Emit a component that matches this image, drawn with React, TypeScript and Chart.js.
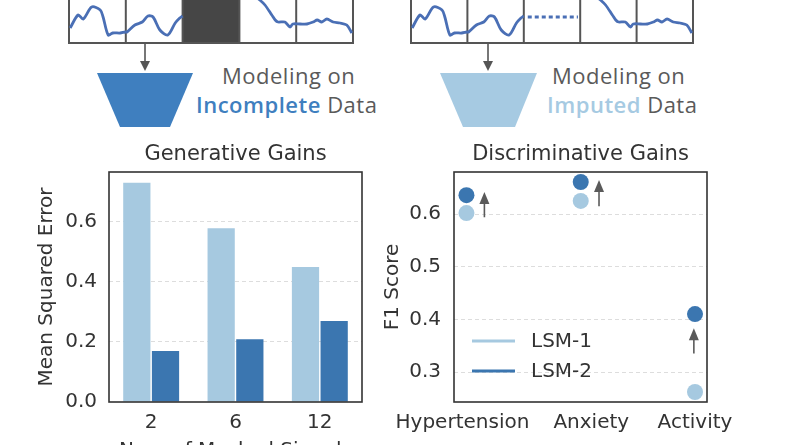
import React, { useEffect, useRef } from "react";
import { Chart, registerables } from "chart.js";

Chart.register(...registerables);

// ---------- data ----------
const maskedSignals = ["2", "6", "12"];
const mseLSM1 = [0.729, 0.578, 0.449];
const mseLSM2 = [0.17, 0.209, 0.269];
const mseTicks = [0, 0.2, 0.4, 0.6];

const tasks = ["Hypertension", "Anxiety", "Activity"];
const f1LSM1 = [0.602, 0.625, 0.262];
const f1LSM2 = [0.636, 0.661, 0.41];
const f1Ticks = [0.3, 0.4, 0.5, 0.6];
const gainFrom = [0.594, 0.615, 0.335];
const gainTo = [0.642, 0.665, 0.383];

// sensor signal (time in segment units, amplitude), null = masked
const signalT = [
  0.02, 0.16, 0.25, 0.4, 0.55, 0.6, 0.69, 0.77, 0.9, 0.99,
  1.02, 1.16, 1.29, 1.39, 1.48, 1.6, 1.74, 1.87, 1.95, 2.0,
  2.5,
  3.01, 3.15, 3.27, 3.36, 3.45, 3.57, 3.63, 3.68, 3.8, 3.89, 3.94,
  4.07, 4.19, 4.3, 4.37, 4.45, 4.54, 4.65, 4.77, 4.89, 4.98,
];
const signalV = [
  15, 28, 24, 36, 33, 26, 8, 10, 10, 11,
  11, 18, 21, 27, 26, 13, 8, 20, 25, 27,
  null,
  48, 52, 47, 43, 38, 28, 23, 21, 21, 16, 19,
  19, 19, 21, 23, 21, 24, 21, 20, 18, 10,
];
const imputedT = [2.07, 2.96];
const imputedV = [26, 26];

// ---------- styles ----------
const LIGHT = "#a6c9e0";
const DARK = "#3b76b0";
const TEXT = "#333333";
const FONT = "'DejaVu Sans', sans-serif";
const SIGNAL = "#4a6fb5";
const segmentCount = 5;
const maskedSegment = 2;
const taskLabelOffsets = [-0.035, 0.092, 0];
const arrowOffsets = [0.157, 0.16, -0.01];

const framePlugin = {
  id: "frame",
  afterDatasetsDraw(chart: any, _a: any, o: any) {
    const { left, top, width, height } = chart.chartArea;
    const ctx = chart.ctx;
    ctx.save();
    ctx.strokeStyle = o.color;
    ctx.lineWidth = o.width;
    ctx.strokeRect(left, top, width, height);
    ctx.restore();
  },
};

const panelTitlePlugin = {
  id: "panelTitle",
  afterDraw(chart: any, _a: any, o: any) {
    const { left, right, top } = chart.chartArea;
    const ctx = chart.ctx;
    ctx.save();
    ctx.font = `21px ${FONT}`;
    ctx.fillStyle = TEXT;
    ctx.textAlign = "center";
    ctx.textBaseline = "middle";
    ctx.fillText(o.text, (left + right) / 2, top - o.offset);
    ctx.restore();
  },
};

const gainArrowsPlugin = {
  id: "gainArrows",
  afterDatasetsDraw(chart: any) {
    const xs = chart.scales.x;
    const ys = chart.scales.y;
    const ctx = chart.ctx;
    ctx.save();
    ctx.strokeStyle = "#5a5a5a";
    ctx.fillStyle = "#5a5a5a";
    ctx.lineWidth = 1.6;
    gainFrom.forEach((f, i) => {
      const x = xs.getPixelForValue(i + arrowOffsets[i]);
      const y0 = ys.getPixelForValue(f);
      const y1 = ys.getPixelForValue(gainTo[i]);
      ctx.beginPath();
      ctx.moveTo(x, y0);
      ctx.lineTo(x, y1 + 8);
      ctx.stroke();
      ctx.beginPath();
      ctx.moveTo(x, y1);
      ctx.lineTo(x - 5, y1 + 12);
      ctx.lineTo(x + 5, y1 + 12);
      ctx.closePath();
      ctx.fill();
    });
    ctx.restore();
  },
};

const lineLegendPlugin = {
  id: "lineLegend",
  afterDraw(chart: any, _a: any, o: any) {
    const { left, bottom } = chart.chartArea;
    const ctx = chart.ctx;
    const ds = chart.data.datasets;
    ctx.save();
    ctx.font = `20px ${FONT}`;
    ctx.textBaseline = "middle";
    ctx.textAlign = "left";
    ds.forEach((d: any, i: number) => {
      const y = bottom - o.rowBottom - (ds.length - 1 - i) * o.rowGap;
      const x = left + o.dx;
      ctx.strokeStyle = d.backgroundColor;
      ctx.lineWidth = 3;
      ctx.beginPath();
      ctx.moveTo(x, y);
      ctx.lineTo(x + o.len, y);
      ctx.stroke();
      ctx.fillStyle = TEXT;
      ctx.fillText(d.label, x + o.len + o.gap, y + 1);
    });
    ctx.restore();
  },
};

const stripBoxesPlugin = {
  id: "stripBoxes",
  beforeDatasetsDraw(chart: any, _a: any, o: any) {
    const xs = chart.scales.x;
    const ys = chart.scales.y;
    const ctx = chart.ctx;
    const yb = ys.getPixelForValue(0);
    const yt = chart.chartArea.top - 2;
    ctx.save();
    if (o.masked) {
      const xa = xs.getPixelForValue(maskedSegment);
      const xb = xs.getPixelForValue(maskedSegment + 1);
      ctx.fillStyle = "#464646";
      ctx.fillRect(xa, yt, xb - xa, yb - yt);
    }
    ctx.strokeStyle = "#555555";
    ctx.lineWidth = 2;
    for (let k = 0; k <= segmentCount; k++) {
      const x = xs.getPixelForValue(k);
      ctx.beginPath();
      ctx.moveTo(x, yt);
      ctx.lineTo(x, yb);
      ctx.stroke();
    }
    ctx.beginPath();
    ctx.moveTo(xs.getPixelForValue(0) - 1, yb);
    ctx.lineTo(xs.getPixelForValue(segmentCount) + 1, yb);
    ctx.stroke();
    ctx.restore();
  },
};

function stripConfig(masked: boolean): any {
  const datasets: any[] = [
    {
      data: signalT.map((t, i) => ({ x: t, y: signalV[i] })),
      borderColor: SIGNAL,
      borderWidth: 2.8,
      pointRadius: 0,
      tension: 0.3,
      spanGaps: false,
    },
  ];
  if (!masked) {
    datasets.push({
      data: imputedT.map((t, i) => ({ x: t, y: imputedV[i] })),
      borderColor: SIGNAL,
      borderWidth: 2.8,
      borderDash: [4, 3],
      pointRadius: 0,
    });
  }
  return {
    type: "line",
    data: { datasets },
    plugins: [stripBoxesPlugin],
    options: {
      animation: false,
      responsive: false,
      events: [],
      layout: { padding: { left: 4, right: 4, top: 0, bottom: 0 } },
      plugins: {
        legend: { display: false },
        tooltip: { enabled: false },
        stripBoxes: { masked },
      },
      scales: {
        x: { type: "linear", min: 0, max: segmentCount, display: false },
        y: { min: -4, max: 60, display: false },
      },
    },
  };
}

const tickFont = { family: FONT, size: 20 };
const gridColor = (ctx: any) =>
  ctx.tick && ctx.tick.value === 0 ? "rgba(0,0,0,0)" : "#dddddd";

function barConfig(): any {
  return {
    type: "bar",
    data: {
      labels: maskedSignals,
      datasets: [
        { label: "LSM-1", data: mseLSM1, backgroundColor: LIGHT, categoryPercentage: 0.68, barPercentage: 0.95 },
        { label: "LSM-2", data: mseLSM2, backgroundColor: DARK, categoryPercentage: 0.68, barPercentage: 0.95 },
      ],
    },
    plugins: [framePlugin, panelTitlePlugin],
    options: {
      animation: false,
      responsive: false,
      events: [],
      layout: { padding: { left: 0, right: 8, top: 42, bottom: 0 } },
      plugins: {
        legend: { display: false },
        tooltip: { enabled: false },
        frame: { color: "#333333", width: 1.6 },
        panelTitle: { text: "Generative Gains", offset: 17 },
      },
      scales: {
        x: {
          grid: { display: false, drawTicks: false },
          border: { display: false },
          ticks: { color: TEXT, font: tickFont, padding: 9, maxRotation: 0 },
          title: {
            display: true,
            text: "Num of Masked Signals",
            color: TEXT,
            font: tickFont,
            padding: { top: 0, bottom: 7 },
          },
          afterFit: (s: any) => { s.height = 68; },
        },
        y: {
          min: 0,
          max: 0.765,
          afterBuildTicks: (s: any) => { s.ticks = mseTicks.map((v) => ({ value: v })); },
          ticks: { color: TEXT, font: tickFont, padding: 12, callback: (v: any) => Number(v).toFixed(1) },
          grid: { color: gridColor, drawTicks: false, lineWidth: 1, borderDash: [4, 3] },
          border: { display: false, dash: [4, 3] },
          title: {
            display: true,
            text: "Mean Squared Error",
            color: TEXT,
            font: tickFont,
            padding: { top: 35, bottom: 0 },
          },
          afterFit: (s: any) => { s.width = 109; },
        },
      },
    },
  };
}

function scatterConfig(): any {
  return {
    type: "scatter",
    data: {
      datasets: [
        { label: "LSM-1", data: f1LSM1.map((v, i) => ({ x: i, y: v })), backgroundColor: LIGHT, borderColor: LIGHT, pointRadius: 8, borderWidth: 0 },
        { label: "LSM-2", data: f1LSM2.map((v, i) => ({ x: i, y: v })), backgroundColor: DARK, borderColor: DARK, pointRadius: 8, borderWidth: 0 },
      ],
    },
    plugins: [framePlugin, panelTitlePlugin, gainArrowsPlugin, lineLegendPlugin],
    options: {
      animation: false,
      responsive: false,
      events: [],
      layout: { padding: { left: 0, right: 93, top: 42, bottom: 0 } },
      plugins: {
        legend: { display: false },
        tooltip: { enabled: false },
        frame: { color: "#333333", width: 1.6 },
        panelTitle: { text: "Discriminative Gains", offset: 17 },
        lineLegend: { dx: 18, len: 43, gap: 16, rowBottom: 31, rowGap: 30 },
      },
      scales: {
        x: {
          type: "linear",
          min: -0.109,
          max: 2.105,
          afterBuildTicks: (s: any) => { s.ticks = tasks.map((_, i) => ({ value: i + taskLabelOffsets[i] })); },
          ticks: {
            color: TEXT,
            font: tickFont,
            padding: 9,
            autoSkip: false,
            maxRotation: 0,
            minRotation: 0,
            callback: (_v: any, i: number) => tasks[i],
          },
          grid: { display: false, drawTicks: false },
          border: { display: false },
          afterFit: (s: any) => { s.height = 68; },
        },
        y: {
          min: 0.243,
          max: 0.68,
          afterBuildTicks: (s: any) => { s.ticks = f1Ticks.map((v) => ({ value: v })); },
          ticks: { color: TEXT, font: tickFont, padding: 13, callback: (v: any) => Number(v).toFixed(1) },
          grid: { color: gridColor, drawTicks: false, lineWidth: 1, borderDash: [4, 3] },
          border: { display: false, dash: [4, 3] },
          title: {
            display: true,
            text: "F1 Score",
            color: TEXT,
            font: tickFont,
            padding: { top: 11, bottom: 0 },
          },
          afterFit: (s: any) => { s.width = 84; },
        },
      },
    },
  };
}

const labelStyle: React.CSSProperties = {
  position: "absolute",
  fontFamily: "'Open Sans', sans-serif",
  fontSize: 22,
  lineHeight: 1,
  color: "#5a5a5a",
  whiteSpace: "nowrap",
  letterSpacing: "0.5px",
};

export default function App() {
  const stripA = useRef<HTMLCanvasElement>(null);
  const stripB = useRef<HTMLCanvasElement>(null);
  const barRef = useRef<HTMLCanvasElement>(null);
  const scatRef = useRef<HTMLCanvasElement>(null);

  useEffect(() => {
    const charts = [
      new Chart(stripA.current as HTMLCanvasElement, stripConfig(true)),
      new Chart(stripB.current as HTMLCanvasElement, stripConfig(false)),
      new Chart(barRef.current as HTMLCanvasElement, barConfig()),
      new Chart(scatRef.current as HTMLCanvasElement, scatterConfig()),
    ];
    return () => charts.forEach((c) => c.destroy());
  }, []);

  return (
    <div
      style={{
        position: "fixed",
        left: 0,
        top: 0,
        width: 800,
        height: 445,
        overflow: "hidden",
        background: "#ffffff",
      }}
    >
      <svg width={800} height={445} style={{ position: "absolute", left: 0, top: 0 }}>
        <line x1={145} y1={44} x2={145} y2={63} stroke="#555" strokeWidth={1.6} />
        <polygon points="140,61 150,61 145,71" fill="#555" />
        <line x1={488} y1={44} x2={488} y2={63} stroke="#555" strokeWidth={1.6} />
        <polygon points="483,61 493,61 488,71" fill="#555" />
        <polygon points="97,73 193,73 170,127 120,127" fill="#3f7fbf" />
        <polygon points="440,73 537,73 515,127 463,127" fill="#a6cae2" />
      </svg>
      <div style={{ ...labelStyle, left: 222, top: 64 }}>Modeling on</div>
      <div style={{ ...labelStyle, left: 196, top: 93 }}>
        <span style={{ color: "#3f7fbf", fontWeight: 600 }}>Incomplete</span> Data
      </div>
      <div style={{ ...labelStyle, left: 552, top: 64 }}>Modeling on</div>
      <div style={{ ...labelStyle, left: 547, top: 93 }}>
        <span style={{ color: "#a6cae2", fontWeight: 600 }}>Imputed</span> Data
      </div>
      <canvas ref={stripA} width={292} height={64} style={{ position: "absolute", left: 65, top: -17 }} />
      <canvas ref={stripB} width={290} height={64} style={{ position: "absolute", left: 407, top: -17 }} />
      <canvas ref={barRef} width={370} height={340} style={{ position: "absolute", left: 0, top: 130 }} />
      <canvas ref={scatRef} width={430} height={340} style={{ position: "absolute", left: 370, top: 130 }} />
    </div>
  );
}
